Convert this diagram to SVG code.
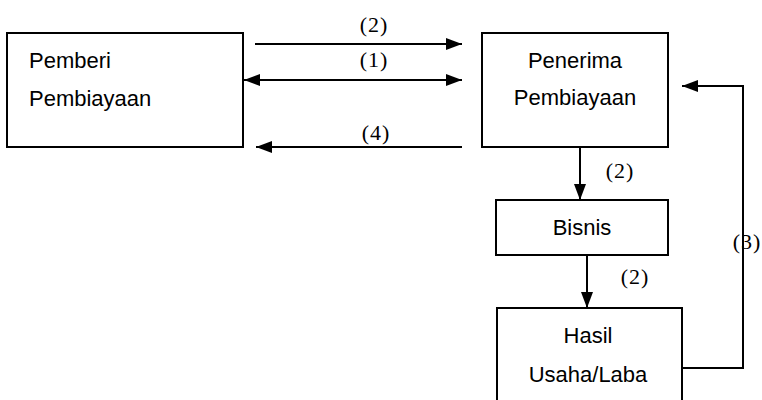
<svg xmlns="http://www.w3.org/2000/svg" width="762" height="400" viewBox="0 0 762 400">
<style>
.box{fill:#fff;stroke:#000;stroke-width:2}
.t{font-family:"Liberation Sans",Arial,sans-serif;font-size:22px;fill:#000}
.m{text-anchor:middle}
.lbl{font-family:"Liberation Serif","Times New Roman",serif;font-size:22px;fill:#000;text-anchor:middle;letter-spacing:1px}
.c{fill:none;stroke:#000;stroke-width:2}
</style>
<defs>
<marker id="ah" viewBox="0 0 16 12" refX="16" refY="6" markerWidth="16" markerHeight="12" markerUnits="userSpaceOnUse" orient="auto-start-reverse">
<path d="M0,0 L16,6 L0,12 z" fill="#000"/>
</marker>
</defs>
<rect width="762" height="400" fill="#fff"/>
<g id="pemberi">
<rect class="box" x="7" y="33" width="236" height="114"/>
<text class="t" x="29" y="68">Pemberi</text>
<text class="t" x="29" y="106">Pembiayaan</text>
</g>
<g id="penerima">
<rect class="box" x="482" y="33" width="186" height="114"/>
<text class="t m" x="575" y="68">Penerima</text>
<text class="t m" x="575" y="105">Pembiayaan</text>
</g>
<g id="bisnis">
<rect class="box" x="496" y="200" width="172" height="55"/>
<text class="t m" x="582" y="235">Bisnis</text>
</g>
<g id="hasil">
<rect class="box" x="497" y="308" width="185" height="110"/>
<text class="t m" x="588" y="343">Hasil</text>
<text class="t m" x="588" y="382">Usaha/Laba</text>
</g>
<g id="connectors">
<line class="c" x1="255" y1="44" x2="462" y2="44" marker-end="url(#ah)"/>
<line class="c" x1="244" y1="80" x2="462" y2="80" marker-start="url(#ah)" marker-end="url(#ah)"/>
<line class="c" x1="462" y1="147" x2="256" y2="147" marker-end="url(#ah)"/>
<line class="c" x1="580" y1="147" x2="580" y2="200" marker-end="url(#ah)"/>
<line class="c" x1="587" y1="255" x2="587" y2="308" marker-end="url(#ah)"/>
<polyline class="c" points="682,368 743,368 743,86 682,86" marker-end="url(#ah)"/>
<text class="lbl" x="374" y="32">(2)</text>
<text class="lbl" x="374" y="67">(1)</text>
<text class="lbl" x="376" y="140">(4)</text>
<text class="lbl" x="620" y="178">(2)</text>
<text class="lbl" x="635" y="284">(2)</text>
<text class="lbl" x="747" y="249">(3)</text>
</g>
</svg>
